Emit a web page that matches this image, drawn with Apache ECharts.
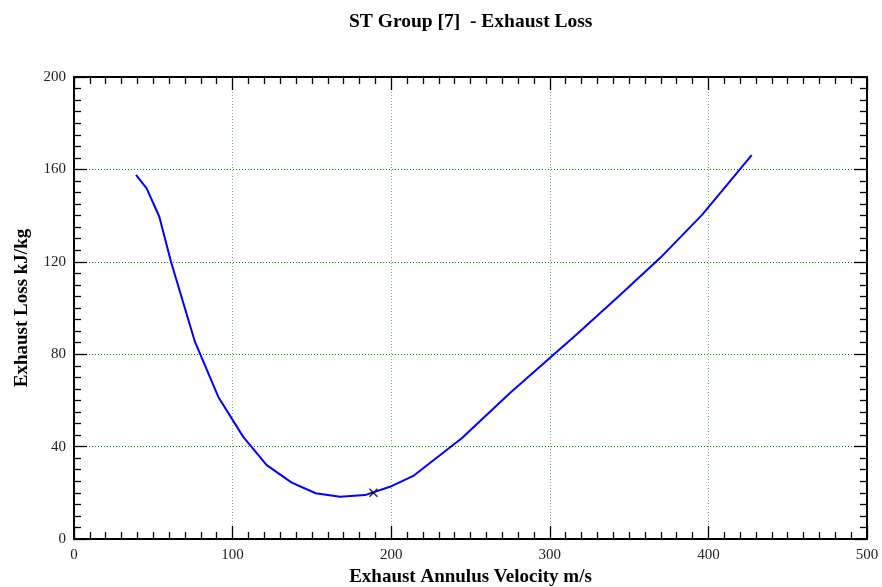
<!DOCTYPE html>
<html><head><meta charset="utf-8">
<script src="https://cdn.jsdelivr.net/npm/echarts@6/dist/echarts.min.js"></script>
<style>html,body{margin:0;padding:0;background:#fff}#c{width:882px;height:587px}</style>
</head><body><div id="c"></div>
<script>
const titleText = 'ST Group [7]  - Exhaust Loss';
const xName = 'Exhaust Annulus Velocity m/s';
const yName = 'Exhaust Loss kJ/kg';
const velocity = [39.1, 45.8, 53.8, 61.2, 76.3, 91.0, 106.7, 121.5, 137.3, 152.4, 167.7, 183.5, 199.2, 213.9, 244.5, 274.9, 317.2, 344.3, 369.5, 396.0, 427.3];
const loss     = [157.6, 151.8, 139.5, 119.9, 85.3, 61.5, 44.2, 32.0, 24.4, 19.8, 18.3, 19.0, 22.6, 27.3, 43.6, 63.2, 88.7, 105.6, 121.6, 140.3, 166.2];
const opPoint = [[188.8, 20.0]];
const xTicks = [0, 500, 100];
const yTicks = [0, 200, 40];

const serif = '"Liberation Serif", "DejaVu Serif", serif';
const chart = echarts.init(document.getElementById('c'), null, {renderer: 'canvas'});
const axisLine = {show: true, onZero: false, lineStyle: {color: '#000', width: 2}};
const axisTick = {show: true, inside: true, length: 13, lineStyle: {color: '#000', width: 1.3}};
const minor = (n) => ({show: true, splitNumber: n, length: 7, lineStyle: {color: '#000', width: 1.3}});
const nameStyle = {fontFamily: serif, fontSize: 19, fontWeight: 'bold', color: '#000'};
const labelStyle = {fontFamily: serif, fontSize: 15, color: '#222'};
chart.setOption({
  animation: false,
  title: {text: titleText, left: 344, top: 7, textStyle: {fontFamily: serif, fontSize: 19.5, fontWeight: 'bold', color: '#000'}},
  grid: {left: 74, right: 15, top: 77, bottom: 48, show: false, containLabel: false, outerBoundsMode: 'none'},
  xAxis: [
    {type: 'value', min: xTicks[0], max: xTicks[1], interval: xTicks[2], position: 'bottom',
      name: xName, nameLocation: 'middle', nameGap: 26, nameTextStyle: nameStyle,
      axisLine: axisLine, axisTick: axisTick, minorTick: minor(10),
      axisLabel: Object.assign({margin: 9}, labelStyle),
      splitLine: {show: true, lineStyle: {color: '#66c266', type: [1, 2], width: 1}}},
    {type: 'value', min: xTicks[0], max: xTicks[1], interval: xTicks[2], position: 'top',
      axisLine: axisLine, axisTick: axisTick, minorTick: minor(10),
      axisLabel: {show: false}, splitLine: {show: false}}
  ],
  yAxis: [
    {type: 'value', min: yTicks[0], max: yTicks[1], interval: yTicks[2], position: 'left',
      name: yName, nameLocation: 'middle', nameGap: 42, nameRotate: 90, nameTextStyle: nameStyle,
      axisLine: axisLine, axisTick: axisTick, minorTick: minor(8),
      axisLabel: Object.assign({margin: 8}, labelStyle),
      splitLine: {show: true, lineStyle: {color: '#008800', type: [1, 2], width: 1}}},
    {type: 'value', min: yTicks[0], max: yTicks[1], interval: yTicks[2], position: 'right',
      axisLine: axisLine, axisTick: axisTick, minorTick: minor(8),
      axisLabel: {show: false}, splitLine: {show: false}}
  ],
  series: [
    {type: 'line', data: velocity.map((v, i) => [v, loss[i]]), showSymbol: false, symbol: 'none',
     lineStyle: {color: '#0000ff', width: 2}, z: 3},
    {type: 'scatter', data: opPoint, symbol: 'path://M0,0L10,10M10,0L0,10', symbolSize: 8,
     itemStyle: {color: 'none', borderColor: '#000', borderWidth: 1.6}, z: 4}
  ]
});
</script></body></html>
